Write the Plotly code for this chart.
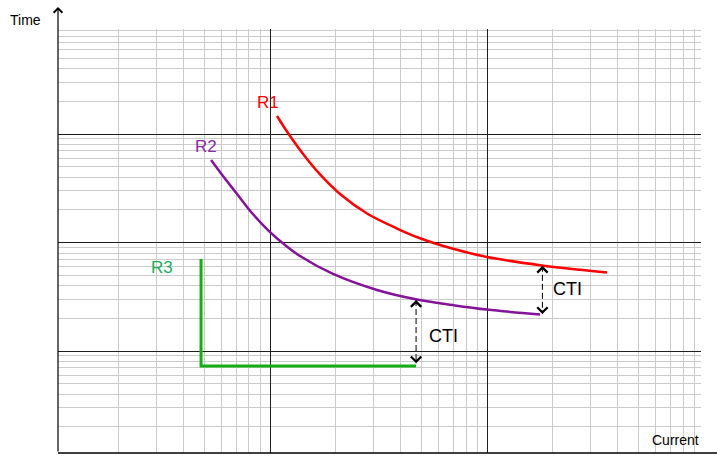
import numpy as np
import plotly.graph_objects as go

# Relay characteristics: current (multiple of base) vs operating time
r1_current = [10.77, 12.10, 14.20, 17.00, 21.02, 27.99, 38.48, 49.12, 69.7, 100, 175.5, 268.3, 357.3]
r1_time = [146.5, 102.1, 65.4, 42.4, 28.0, 18.5, 13.46, 10.95, 8.75, 7.35, 6.18, 5.60, 5.29]

r2_current = [5.35, 6.07, 7.05, 8.26, 9.89, 11.73, 13.75, 19.51, 31.12, 47.59, 69.7, 100, 175.5]
r2_time = [57.6, 41.0, 28.0, 18.7, 12.76, 9.48, 7.51, 5.13, 3.65, 2.98, 2.65, 2.41, 2.17]

r3_current = [4.81, 4.81, 47.1]
r3_time = [7.05, 0.728, 0.728]

# Coordination time interval markers
cti_current = [47.1, 180]
cti_upper = [2.95, 6.1]
cti_lower = [0.77, 2.19]

# Grid tick values
x_major = [10, 100]
x_minor = [n * d for d in (1, 10, 100) for n in range(2, 10)]
y_major = [1, 10, 100]
y_minor = [n * d for d in (0.1, 1, 10, 100) for n in range(2, 10)]

# Label anchors (current, time)
labels = [
    ("R1", 9.8, 197, "#ff0000"),
    ("R2", 5.07, 76.7, "#8a2aa6"),
    ("R3", 3.18, 5.94, "#1aad5a"),
]
cti_labels = [("CTI", 62.7, 1.39), ("CTI", 235, 3.69)]

W, H = 717, 457
ML, MR, MT, MB = 58, 16, 29, 4
PW, PH = W - ML - MR, H - MT - MB
FONT = "Liberation Sans, Arial, sans-serif"

fig = go.Figure()

fig.add_trace(go.Scatter(x=r3_current, y=r3_time, mode="lines",
                         line=dict(color="#12b012", width=3)))
fig.add_trace(go.Scatter(x=r2_current, y=r2_time, mode="lines",
                         line=dict(color="#85139a", width=2.5, shape="spline", smoothing=1.0)))
fig.add_trace(go.Scatter(x=r1_current, y=r1_time, mode="lines",
                         line=dict(color="#ff0000", width=2.5, shape="spline", smoothing=1.0)))

annotations = []
for cx, top, bot in zip(cti_current, cti_upper, cti_lower):
    fig.add_trace(go.Scatter(x=[cx, cx], y=[top, bot], mode="lines",
                             line=dict(color="black", width=1, dash="6px,3px")))
    lx = np.log10(cx)
    annotations.append(dict(x=lx, y=np.log10(top), xref="x", yref="y", ax=0, ay=5,
                            text="", showarrow=True, arrowhead=4, arrowsize=2,
                            arrowwidth=1, arrowcolor="black"))
    annotations.append(dict(x=lx, y=np.log10(bot), xref="x", yref="y", ax=0, ay=-5,
                            text="", showarrow=True, arrowhead=4, arrowsize=2,
                            arrowwidth=1, arrowcolor="black"))

for txt, cx, ty, col in labels:
    annotations.append(dict(x=np.log10(cx), y=np.log10(ty), xref="x", yref="y",
                            text=txt, showarrow=False,
                            font=dict(family=FONT, size=17, color=col)))
for txt, cx, ty in cti_labels:
    annotations.append(dict(x=np.log10(cx), y=np.log10(ty), xref="x", yref="y",
                            text=txt, showarrow=False,
                            font=dict(family=FONT, size=18, color="black")))

# Vertical axis with arrow reaching above the grid
annotations.append(dict(x=0, y=1 + 22 / PH, xref="paper", yref="paper",
                        ax=0, ay=PH + 22, text="", showarrow=True,
                        arrowhead=4, arrowsize=1.4, arrowwidth=1.2, arrowcolor="black"))
annotations.append(dict(x=-15 / PW, y=1 + 9 / PH, xref="paper", yref="paper",
                        xanchor="right", yanchor="middle", text="Time", showarrow=False,
                        font=dict(family=FONT, size=14, color="black")))
annotations.append(dict(x=1.0, y=13 / PH, xref="paper", yref="paper",
                        xanchor="right", yanchor="middle", text="Current", showarrow=False,
                        font=dict(family=FONT, size=14, color="black")))

shapes = [dict(type="line", xref="paper", yref="paper", x0=0, x1=(W - ML) / PW,
               y0=0, y1=0, line=dict(color="black", width=1.5))]

axis_common = dict(type="log", tickmode="array", showticklabels=False, ticks="",
                   showgrid=True, gridcolor="#1e1e1e", gridwidth=1,
                   zeroline=False, showline=False, fixedrange=True)

fig.update_layout(
    width=W, height=H,
    margin=dict(l=ML, r=MR, t=MT, b=MB),
    paper_bgcolor="white", plot_bgcolor="white",
    showlegend=False,
    xaxis=dict(**axis_common, range=[0.023, 2.986], tickvals=x_major,
               minor=dict(tickmode="array", tickvals=x_minor, showgrid=True,
                          gridcolor="#cbcbcb", gridwidth=1, ticks="")),
    yaxis=dict(**axis_common, range=[-0.940, 2.968], tickvals=y_major,
               minor=dict(tickmode="array", tickvals=y_minor, showgrid=True,
                          gridcolor="#cbcbcb", gridwidth=1, ticks="")),
    annotations=annotations,
    shapes=shapes,
)

fig.write_html("out.html")
